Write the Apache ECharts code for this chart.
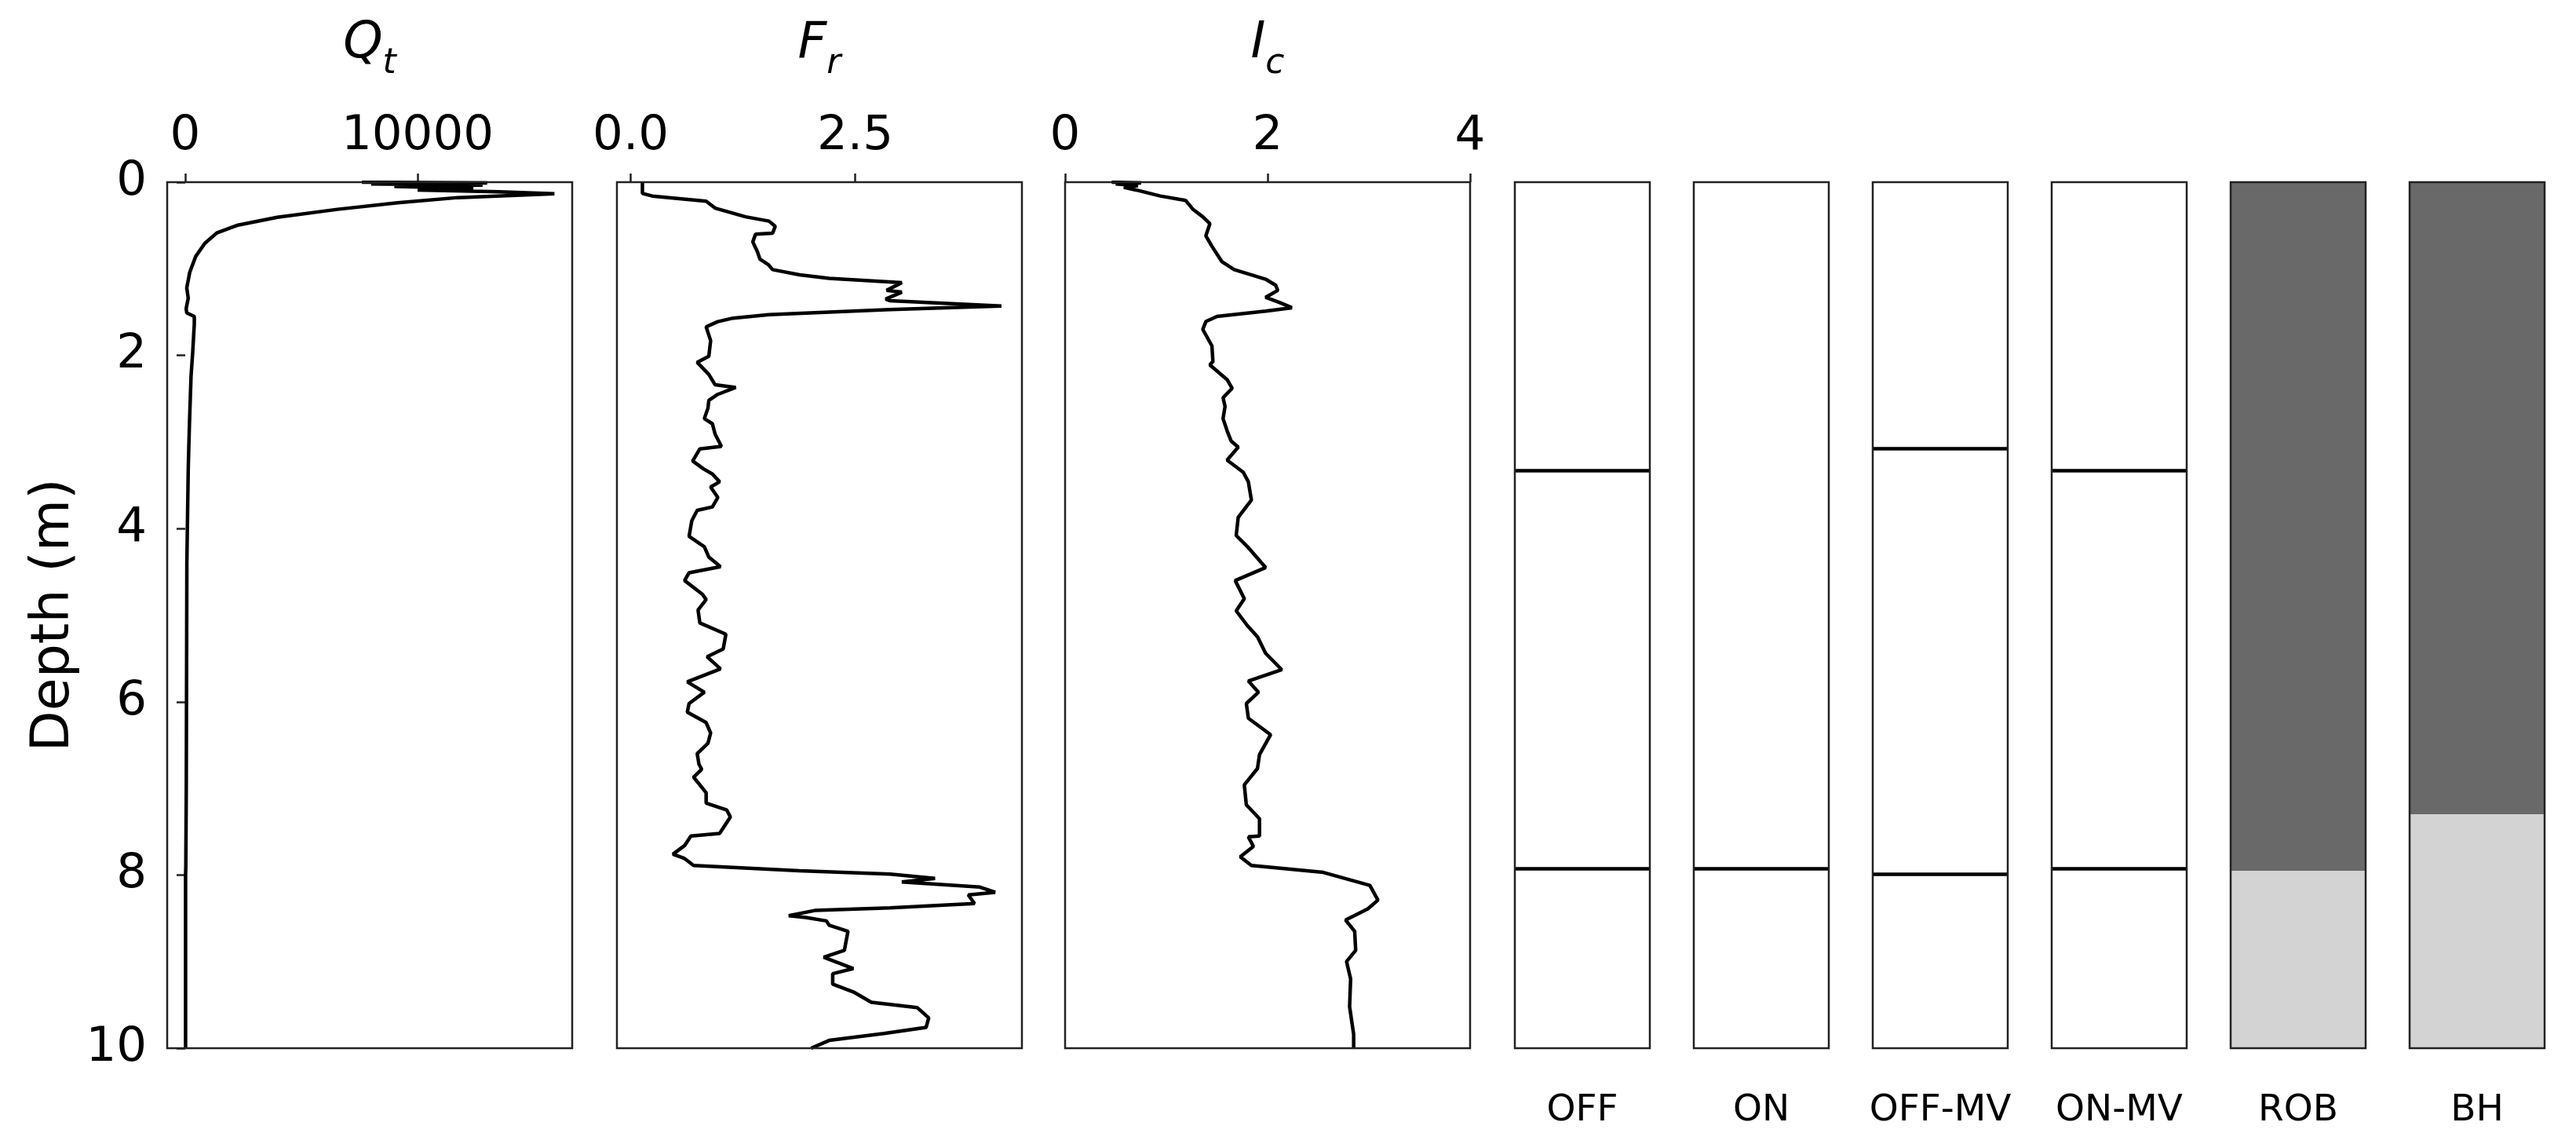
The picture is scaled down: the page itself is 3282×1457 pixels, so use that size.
<!DOCTYPE html>
<html>
<head>
<meta charset="utf-8">
<script src="https://cdn.jsdelivr.net/npm/echarts@6/dist/echarts.min.js"></script>
<style>
  html, body { margin: 0; padding: 0; background: #fff; }
  #chart { width: 3282px; height: 1457px; }
</style>
</head>
<body>
<div id="chart"></div>
<script>
// depth axis (m)
const depthTicks = [0, 2, 4, 6, 8, 10];

// Qt profile
const qtDepth = [0.00, 0.01, 0.02, 0.035, 0.05, 0.07, 0.09, 0.11, 0.133, 0.178, 0.239, 0.314, 0.405, 0.496, 0.586, 0.707, 0.858, 1.04, 1.22, 1.34, 1.46, 1.51, 1.55, 1.64, 1.95, 2.24, 2.8, 3.3, 4.4, 5.5, 7.0, 7.9, 8.0, 10.0];
const qtValue = [7600, 13000, 8000, 12800, 9000, 12400, 10000, 13500, 15890, 11740, 9140, 6550, 3960, 2270, 1360, 840, 450, 195, 65, 130, 40, 65, 390, 390, 325, 250, 180, 130, 70, 60, 45, 25, 15, 15];
const qtTicks = [0, 10000];

// Fr profile
const frDepth = [0.00, 0.13, 0.16, 0.22, 0.30, 0.40, 0.45, 0.51, 0.59, 0.60, 0.69, 0.80, 0.89, 0.95, 1.01, 1.07, 1.11, 1.16, 1.25, 1.27, 1.35, 1.37, 1.43, 1.47, 1.50, 1.53, 1.57, 1.61, 1.67, 1.83, 2.01, 2.08, 2.22, 2.34, 2.37, 2.45, 2.52, 2.61, 2.73, 2.79, 2.91, 3.05, 3.08, 3.22, 3.31, 3.37, 3.46, 3.52, 3.64, 3.75, 3.79, 3.91, 4.09, 4.21, 4.33, 4.44, 4.51, 4.60, 4.76, 4.82, 4.94, 5.09, 5.22, 5.39, 5.48, 5.62, 5.77, 5.89, 6.02, 6.12, 6.24, 6.36, 6.48, 6.60, 6.72, 6.78, 6.87, 6.96, 7.05, 7.17, 7.25, 7.33, 7.52, 7.55, 7.66, 7.76, 7.81, 7.89, 7.95, 7.99, 8.04, 8.08, 8.14, 8.20, 8.23, 8.33, 8.38, 8.41, 8.47, 8.49, 8.53, 8.58, 8.65, 8.87, 8.95, 9.08, 9.14, 9.26, 9.35, 9.47, 9.53, 9.65, 9.76, 9.83, 9.91, 10.0];
const frValue = [0.13, 0.13, 0.24, 0.84, 0.94, 1.28, 1.54, 1.61, 1.58, 1.39, 1.36, 1.41, 1.44, 1.53, 1.58, 1.88, 2.21, 3.02, 2.85, 3.02, 2.84, 2.89, 4.13, 2.89, 2.21, 1.54, 1.14, 0.97, 0.84, 0.89, 0.87, 0.74, 0.87, 0.94, 1.17, 0.97, 0.87, 0.86, 0.82, 0.91, 0.94, 1.01, 0.77, 0.69, 0.81, 0.91, 0.99, 0.89, 0.97, 0.91, 0.74, 0.68, 0.65, 0.82, 0.87, 1.00, 0.65, 0.60, 0.80, 0.84, 0.75, 0.77, 1.06, 1.03, 0.85, 1.00, 0.63, 0.82, 0.65, 0.63, 0.84, 0.89, 0.86, 0.74, 0.76, 0.79, 0.70, 0.77, 0.84, 0.84, 1.07, 1.11, 0.99, 0.67, 0.60, 0.47, 0.60, 0.70, 1.88, 2.89, 3.39, 3.02, 3.89, 4.06, 3.76, 3.83, 2.89, 2.05, 1.76, 1.95, 2.18, 2.21, 2.42, 2.38, 2.15, 2.48, 2.25, 2.25, 2.48, 2.68, 3.19, 3.32, 3.29, 2.82, 2.21, 2.01];
const frTicks = [0, 2.5];

// Ic profile
const icDepth = [0.00, 0.01, 0.02, 0.04, 0.06, 0.09, 0.16, 0.21, 0.31, 0.40, 0.48, 0.62, 0.74, 0.92, 1.01, 1.12, 1.19, 1.25, 1.33, 1.39, 1.45, 1.49, 1.55, 1.61, 1.70, 1.89, 2.07, 2.11, 2.28, 2.38, 2.49, 2.59, 2.73, 2.87, 2.99, 3.06, 3.21, 3.35, 3.46, 3.67, 3.87, 4.08, 4.22, 4.45, 4.60, 4.81, 4.95, 5.12, 5.25, 5.44, 5.63, 5.76, 5.89, 6.02, 6.19, 6.38, 6.61, 6.77, 6.96, 7.19, 7.35, 7.55, 7.56, 7.67, 7.79, 7.89, 7.97, 8.12, 8.29, 8.39, 8.52, 8.65, 8.87, 9.00, 9.20, 9.52, 9.84, 10.0];
const icValue = [0.46, 0.75, 0.50, 0.72, 0.58, 0.70, 0.94, 1.19, 1.26, 1.36, 1.43, 1.39, 1.45, 1.55, 1.67, 1.98, 2.08, 2.10, 1.98, 2.12, 2.24, 1.98, 1.50, 1.39, 1.36, 1.45, 1.46, 1.43, 1.60, 1.65, 1.56, 1.58, 1.56, 1.60, 1.64, 1.71, 1.60, 1.76, 1.81, 1.84, 1.71, 1.69, 1.81, 1.98, 1.68, 1.77, 1.69, 1.80, 1.90, 1.98, 2.14, 1.81, 1.91, 1.79, 1.81, 2.03, 1.92, 1.90, 1.77, 1.79, 1.92, 1.92, 1.81, 1.86, 1.73, 1.84, 2.55, 3.01, 3.09, 2.99, 2.77, 2.86, 2.87, 2.78, 2.82, 2.81, 2.85, 2.85];
const icTicks = [0, 2, 4];

// layer columns
const stripNames = ['OFF', 'ON', 'OFF-MV', 'ON-MV', 'ROB', 'BH'];
const offLayers = [3.33, 7.93];
const onLayers = [7.93];
const offMvLayers = [3.08, 7.99];
const onMvLayers = [3.33, 7.93];
const robSplit = 7.95;
const bhSplit = 7.3;

const FONT = 'DejaVu Sans';
const TOP = 232, HEIGHT = 1103;
const SPINE = '#222';

function pairs(depth, value) {
  return depth.map((d, i) => [value[i], d]);
}

let chart = echarts.init(document.getElementById('chart'));

let curves = [
  {left: 213, min: -777, max: 16655, ticks: qtTicks, fmt: v => String(v), data: pairs(qtDepth, qtValue), sym: 'Q', sub: 't'},
  {left: 786, min: -0.154, max: 4.358, ticks: frTicks, fmt: v => v.toFixed(1), data: pairs(frDepth, frValue), sym: 'F', sub: 'r'},
  {left: 1357, min: 0, max: 4, ticks: icTicks, fmt: v => String(v), data: pairs(icDepth, icValue), sym: 'I', sub: 'c'}
];
const CW = 516;

let strips = [
  {lines: offLayers}, {lines: onLayers}, {lines: offMvLayers}, {lines: onMvLayers},
  {split: robSplit}, {split: bhSplit}
];
const SW = 172, SGAP = 228, SLEFT = 1930;

let grid = [], xAxis = [], yAxis = [], series = [], title = [];

curves.forEach((c, i) => {
  grid.push({left: c.left, top: TOP, width: CW, height: HEIGHT, show: true,
    borderColor: SPINE, borderWidth: 2.5, backgroundColor: 'transparent', z: 10});
  xAxis.push({
    gridIndex: i, type: 'value', position: 'top', min: c.min, max: c.max,
    axisLine: {show: false},
    axisTick: {show: true, customValues: c.ticks, length: 11, lineStyle: {color: SPINE, width: 2.5}},
    axisLabel: {customValues: c.ticks, formatter: c.fmt, fontSize: 61, color: '#000', fontFamily: FONT, margin: 27},
    splitLine: {show: false}
  });
  yAxis.push({
    gridIndex: i, type: 'value', min: 0, max: 10, interval: 2, inverse: true,
    axisLine: {show: false},
    axisTick: {show: i === 0, length: 11, lineStyle: {color: SPINE, width: 2.5}},
    axisLabel: {show: i === 0, fontSize: 61, color: '#000', fontFamily: FONT, margin: 26},
    splitLine: {show: false},
    name: i === 0 ? 'Depth (m)' : '',
    nameLocation: 'middle', nameRotate: 90, nameGap: 110,
    nameTextStyle: {fontSize: 68, color: '#000', fontFamily: FONT}
  });
  series.push({
    type: 'line', xAxisIndex: i, yAxisIndex: i, data: c.data,
    showSymbol: false, symbol: 'none', clip: true,
    lineStyle: {color: '#000', width: 4.5}
  });
  title.push({
    text: '{m|' + c.sym + '}{s|' + c.sub + '}',
    left: c.left + CW / 2, top: 24, textAlign: 'center', padding: 0,
    textStyle: {
      fontWeight: 'normal',
      rich: {
        m: {fontSize: 64, fontStyle: 'italic', fontWeight: 'normal', fontFamily: FONT, color: '#000', lineHeight: 80, verticalAlign: 'top'},
        s: {fontSize: 44, fontStyle: 'italic', fontWeight: 'normal', fontFamily: FONT, color: '#000', lineHeight: 44, verticalAlign: 'bottom'}
      }
    }
  });
});

strips.forEach((s, k) => {
  let i = curves.length + k;
  grid.push({left: SLEFT + k * SGAP, top: TOP, width: SW, height: HEIGHT, show: true,
    borderColor: SPINE, borderWidth: 2.5, backgroundColor: 'transparent', z: 10});
  xAxis.push({
    gridIndex: i, type: 'value', min: 0, max: 1, position: 'bottom',
    axisLine: {show: false}, axisTick: {show: false}, axisLabel: {show: false}, splitLine: {show: false},
    name: stripNames[k], nameLocation: 'middle', nameGap: 56,
    nameTextStyle: {fontSize: 47, color: '#000', fontFamily: FONT}
  });
  yAxis.push({
    gridIndex: i, type: 'value', min: 0, max: 10, inverse: true,
    axisLine: {show: false}, axisTick: {show: false}, axisLabel: {show: false}, splitLine: {show: false}
  });
  let ser = {type: 'line', xAxisIndex: i, yAxisIndex: i, data: [], symbol: 'none'};
  if (s.lines) {
    ser.markLine = {
      symbol: 'none', silent: true, animation: false,
      label: {show: false},
      lineStyle: {color: '#000', width: 4.5, type: 'solid'},
      data: s.lines.map(d => ({yAxis: d}))
    };
  } else {
    ser.markArea = {
      silent: true, animation: false,
      data: [
        [{yAxis: 0, itemStyle: {color: '#696969', opacity: 1}}, {yAxis: s.split}],
        [{yAxis: s.split, itemStyle: {color: '#d3d3d3', opacity: 1}}, {yAxis: 10}]
      ]
    };
  }
  series.push(ser);
});

chart.setOption({
  animation: false,
  backgroundColor: '#fff',
  title: title,
  grid: grid,
  xAxis: xAxis,
  yAxis: yAxis,
  series: series
});
</script>
</body>
</html>
